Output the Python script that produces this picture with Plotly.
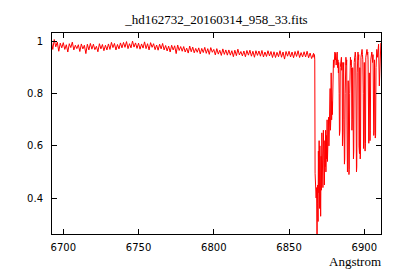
import plotly.graph_objects as go

# Continuum region: one value per Angstrom starting at 6692
cont_start = 6692
cont_flux = [
    1.003, 0.970, 1.008, 0.980, 0.998, 0.963, 0.994, 0.976,
    0.996, 0.970, 0.988, 0.960, 0.992, 0.977, 0.998, 0.968, 0.986, 0.973,
    0.988, 0.962, 0.991, 0.972, 0.986, 0.954, 0.990, 0.968, 0.993, 0.971,
    0.990, 0.969, 0.982, 0.961, 0.992, 0.972, 0.989, 0.965, 0.986, 0.968,
    0.991, 0.970, 0.997, 0.977, 0.993, 0.968, 0.989, 0.972, 0.995, 0.976,
    0.997, 0.978, 1.000, 0.973, 0.992, 0.976, 1.002, 0.979, 0.995, 0.974,
    0.994, 0.971, 0.991, 0.975, 0.999, 0.973, 0.992, 0.968, 0.996, 0.978,
    0.992, 0.969, 0.987, 0.967, 0.990, 0.972, 0.993, 0.968, 0.985, 0.964,
    0.983, 0.960, 0.986, 0.968, 0.984, 0.954, 0.987, 0.966, 0.981, 0.963,
    0.981, 0.960, 0.975, 0.956, 0.983, 0.961, 0.979, 0.957, 0.974, 0.959,
    0.976, 0.953, 0.974, 0.958, 0.978, 0.955, 0.973, 0.951, 0.977, 0.959,
    0.970, 0.949, 0.973, 0.952, 0.967, 0.947, 0.972, 0.951, 0.968, 0.948,
    0.968, 0.948, 0.965, 0.942, 0.967, 0.946, 0.971, 0.949, 0.962, 0.945,
    0.964, 0.942, 0.966, 0.948, 0.967, 0.944, 0.963, 0.940, 0.965, 0.947,
    0.964, 0.944, 0.966, 0.941, 0.960, 0.943, 0.965, 0.945, 0.962, 0.939,
    0.961, 0.939, 0.959, 0.942, 0.965, 0.940, 0.960, 0.933, 0.962, 0.944,
    0.963, 0.941, 0.960, 0.938, 0.962, 0.943, 0.965, 0.939, 0.958, 0.941,
    0.961, 0.941, 0.963, 0.938, 0.956, 0.935,
]

# O2 B-band region
band_wave = [
    6866.3, 6866.6, 6866.9, 6867.1, 6867.3, 6867.5, 6867.8, 6868.0, 6868.3, 6868.6,
    6868.8, 6869.0, 6869.3, 6869.5, 6869.8, 6870.0, 6870.3, 6870.5, 6870.8, 6871.0,
    6871.3, 6871.5, 6871.8, 6872.0, 6872.3, 6872.5, 6872.8, 6873.0, 6873.3, 6873.5,
    6873.8, 6874.0, 6874.3, 6874.5, 6874.8, 6875.0, 6875.3, 6875.5, 6875.8, 6876.0,
    6876.3, 6876.5, 6876.8, 6877.0, 6877.3, 6877.5, 6877.8, 6878.0, 6878.3, 6878.5,
    6878.8, 6879.0, 6879.3, 6879.5, 6879.8, 6880.0, 6880.3, 6880.5, 6880.8, 6881.0,
    6881.3, 6881.5, 6881.8, 6882.0, 6882.3, 6882.5, 6882.8, 6883.0, 6883.3, 6883.5,
    6883.8, 6884.0, 6884.3, 6884.5, 6884.8, 6885.0, 6885.3, 6885.5, 6885.8, 6886.0,
    6886.3, 6886.5, 6886.8, 6887.0, 6887.3, 6887.5, 6887.8, 6888.0, 6888.3, 6888.5,
    6888.8, 6889.0, 6889.3, 6889.5, 6889.8, 6890.0, 6890.3, 6890.5, 6890.8, 6891.0,
    6891.3, 6891.5, 6891.8, 6892.0, 6892.3, 6892.5, 6892.8, 6893.0, 6893.3, 6893.5,
    6893.8, 6894.0, 6894.3, 6894.5, 6894.8, 6895.0, 6895.3, 6895.5, 6895.8, 6896.0,
    6896.3, 6896.5, 6896.8, 6897.0, 6897.3, 6897.5, 6897.8, 6898.0, 6898.3, 6898.5,
    6898.8, 6899.0, 6899.3, 6899.5, 6899.8, 6900.0, 6900.3, 6900.5, 6900.8, 6901.0,
    6901.3, 6901.5, 6901.8, 6902.0, 6902.3, 6902.5, 6902.8, 6903.0, 6903.3, 6903.5,
    6903.8, 6904.0, 6904.3, 6904.5, 6904.8, 6905.0, 6905.3, 6905.5, 6905.8, 6906.0,
    6906.3, 6906.5, 6906.8, 6907.0, 6907.3, 6907.5, 6907.8, 6908.0, 6908.3, 6908.5,
    6908.8, 6909.0, 6909.3, 6909.5, 6910.0, 6910.5, 6911.0,
]
band_flux = [
    0.955, 0.940, 0.950, 0.930, 0.495, 0.420, 0.470, 0.400, 0.440, 0.250,
    0.380, 0.450, 0.310, 0.580, 0.420, 0.620, 0.360, 0.600, 0.450, 0.330,
    0.560, 0.430, 0.650, 0.470, 0.600, 0.440, 0.660, 0.480, 0.630, 0.450,
    0.620, 0.520, 0.660, 0.500, 0.640, 0.550, 0.700, 0.540, 0.660, 0.580,
    0.710, 0.600, 0.700, 0.620, 0.820, 0.660, 0.710, 0.880, 0.700, 0.770,
    0.720, 0.840, 0.750, 0.930, 0.900, 0.950, 0.920, 0.960, 0.930, 0.955,
    0.910, 0.940, 0.920, 0.960, 0.900, 0.930, 0.880, 0.920, 0.800, 0.640,
    0.660, 0.900, 0.930, 0.910, 0.940, 0.890, 0.920, 0.600, 0.650, 0.880,
    0.920, 0.700, 0.530, 0.550, 0.800, 0.920, 0.940, 0.910, 0.930, 0.680,
    0.500, 0.520, 0.850, 0.600, 0.490, 0.510, 0.800, 0.920, 0.940, 0.910,
    0.930, 0.900, 0.660, 0.700, 0.900, 0.620, 0.550, 0.580, 0.920, 0.950,
    0.930, 0.960, 0.940, 0.700, 0.500, 0.520, 0.880, 0.940, 0.960, 0.930,
    0.950, 0.600, 0.570, 0.900, 0.550, 0.580, 0.940, 0.960, 0.950, 0.970,
    0.950, 0.930, 0.800, 0.590, 0.620, 0.920, 0.750, 0.580, 0.610, 0.940,
    0.960, 0.940, 0.970, 0.950, 0.960, 0.930, 0.640, 0.610, 0.880, 0.780,
    0.620, 0.660, 0.930, 0.950, 0.930, 0.960, 0.940, 0.920, 0.950, 0.720,
    0.640, 0.660, 0.930, 0.850, 0.630, 0.640, 0.900, 0.950, 0.970, 0.960,
    0.940, 0.980, 0.960, 0.990, 0.830, 0.970, 0.995,
]

x_ticks = [6700, 6750, 6800, 6850, 6900]
y_ticks = [0.4, 0.6, 0.8, 1.0]
y_tick_labels = ["0.4", "0.6", "0.8", "1"]
title_text = "_hd162732_20160314_958_33.fits"
x_label = "Angstrom"

wave = [cont_start + i for i in range(len(cont_flux))] + band_wave
flux = cont_flux + band_flux

fig = go.Figure()
fig.add_trace(go.Scatter(x=wave, y=flux, mode="lines",
                         line=dict(color="#ff0000", width=1),
                         showlegend=False, hoverinfo="skip"))

axis_common = dict(showline=True, linecolor="black", linewidth=1,
                   mirror="ticks", ticks="inside", ticklen=5,
                   tickcolor="black", showgrid=False, zeroline=False,
                   tickfont=dict(family="DejaVu Sans", size=10, color="black"))

fig.update_layout(
    width=400, height=280,
    margin=dict(l=52, r=19, t=33, b=46),
    paper_bgcolor="white", plot_bgcolor="white",
    title=dict(text=title_text, x=0.541, xanchor="center",
               y=1 - 19 / 280, yanchor="middle", yref="container",
               font=dict(family="Liberation Serif", size=13, color="black")),
    xaxis=dict(range=[6692.5, 6911.1], tickvals=x_ticks,
               ticklabelstandoff=4, **axis_common),
    yaxis=dict(range=[0.262, 1.033], tickvals=y_ticks,
               ticktext=y_tick_labels, ticklabelstandoff=6, **axis_common),
    annotations=[dict(text=x_label, xref="paper", yref="paper",
                      x=1.006, y=-0.139, xanchor="right", yanchor="middle",
                      showarrow=False,
                      font=dict(family="Liberation Serif", size=13, color="black"))],
)

fig.write_html("out.html")
